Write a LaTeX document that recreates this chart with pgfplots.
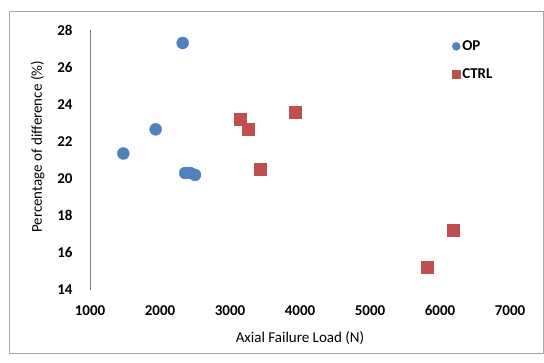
\documentclass[border=0pt]{standalone}
\usepackage{pgfplots}
\pgfplotsset{compat=1.18}
\usepackage{fontspec}
\setmainfont{Carlito}
\definecolor{opblue}{HTML}{4F81BD}
\definecolor{ctrlred}{HTML}{C0504D}
\begin{document}
\begin{tikzpicture}
\path[use as bounding box] (0pt,0pt) rectangle (544pt,363pt);
\draw[gray!70,line width=0.8pt] (9pt,10pt) rectangle (543pt,352pt);
\begin{axis}[
  at={(90pt,73pt)}, anchor=south west,
  scale only axis, width=420pt, height=260pt,
  xmin=1000, xmax=7000, ymin=14, ymax=28,
  xtick={1000,2000,...,7000}, ytick={14,16,...,28},
  axis lines*=left,
  x axis line style={draw=none,-},
  y axis line style={draw=gray,line width=0.8pt,-},
  tick style={draw=none},
  /pgf/number format/assume math mode=true,
  /pgf/number format/set thousands separator={},
  tick label style={font=\fontsize{15}{17}\selectfont\bfseries},
  xticklabel style={yshift=-12pt},
  yticklabel style={xshift=-14pt},
  xlabel={Axial Failure Load (N)},
  ylabel={Percentage of difference (\%)},
  label style={font=\fontsize{15}{17}\selectfont},
  xlabel style={yshift=-9pt},
  ylabel style={at={(ticklabel cs:0.55)}, yshift=6pt},
  legend style={draw=none, fill=none, at={(rel axis cs:0.855,0.975)}, anchor=north west, font=\fontsize{15}{17}\selectfont\bfseries, row sep=13pt},
  legend cell align=left,
  legend image code/.code={\draw[#1,mark size=4pt] (0pt,0pt) -- plot coordinates {(0pt,0pt)};},
  clip=false,
]
\addplot[only marks, mark=*, mark size=6pt, color=opblue, mark options={draw=opblue, fill=opblue}]
coordinates {(2324,27.3) (1938,22.65) (1476,21.35) (2360,20.3) (2430,20.3) (2500,20.2)};
\addlegendentry{OP}
\addplot[only marks, mark=square*, mark size=6pt, color=ctrlred, mark options={draw=ctrlred, fill=ctrlred}]
coordinates {(3147,23.2) (3262,22.65) (3933,23.55) (3433,20.5) (6190,17.2) (5819,15.25)};
\addlegendentry{CTRL}
\end{axis}
\end{tikzpicture}
\end{document}
